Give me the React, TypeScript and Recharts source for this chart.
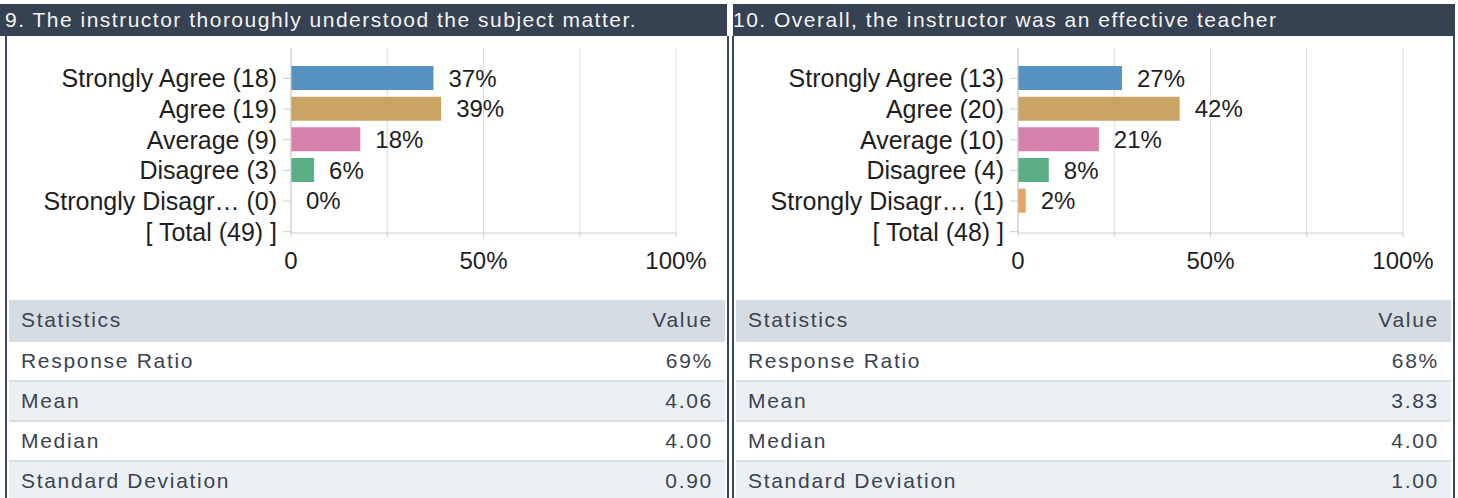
import { BarChart, Bar, XAxis, YAxis, CartesianGrid, LabelList, Cell } from 'recharts'

// answer colours, top to bottom (last one is the Total row, no bar)
const CHOICE_COLORS = ['#5592c1', '#c9a464', '#d681ac', '#5bae86', '#eca362', '#ffffff']

const X_TICKS = [0, 25, 50, 75, 100]

const Q9_TITLE = '9. The instructor thoroughly understood the subject matter.'
const Q9_LABELS = [
  'Strongly Agree (18)',
  'Agree (19)',
  'Average (9)',
  'Disagree (3)',
  'Strongly Disagr… (0)',
  '[ Total (49) ]',
]
const Q9_PERCENT = [37, 39, 18, 6, 0, null]
const Q9_STATS = ['69%', '4.06', '4.00', '0.90']

const Q10_TITLE = '10. Overall, the instructor was an effective teacher'
const Q10_LABELS = [
  'Strongly Agree (13)',
  'Agree (20)',
  'Average (10)',
  'Disagree (4)',
  'Strongly Disagr… (1)',
  '[ Total (48) ]',
]
const Q10_PERCENT = [27, 42, 21, 8, 2, null]
const Q10_STATS = ['68%', '3.83', '4.00', '1.00']

const STAT_NAMES = ['Response Ratio', 'Mean', 'Median', 'Standard Deviation']

const FONT = '"Liberation Sans", Arial, Helvetica, sans-serif'
const DARK = '#364151'
const BORDER = '#3b4656'

type PanelProps = {
  left: number
  width: number
  headerLeft: number
  headerWidth: number
  title: string
  labels: string[]
  percents: (number | null)[]
  stats: string[]
}

function QuestionChart({ labels, percents }: { labels: string[]; percents: (number | null)[] }) {
  const data = labels.map((label, i) => ({
    label,
    pct: percents[i],
    // a 0% answer gets no visible bar, only its label
    color: percents[i] ? CHOICE_COLORS[i] : 'transparent',
  }))

  return (
    <BarChart
      width={720}
      height={265}
      data={data}
      layout="vertical"
      margin={{ top: 12, right: 44, bottom: 28, left: 0 }}
    >
      <CartesianGrid horizontal={false} stroke="#dcdcdc" />
      <XAxis
        type="number"
        domain={[0, 100]}
        ticks={X_TICKS}
        interval={0}
        height={40}
        stroke="#cccccc"
        tickSize={4}
        tickMargin={15}
        tick={{ fill: '#1e1e1e', fontSize: 24 }}
        tickFormatter={(v: number) => (v === 0 ? '0' : v % 50 === 0 ? `${v}%` : '')}
      />
      <YAxis
        type="category"
        dataKey="label"
        width={291}
        stroke="#cccccc"
        tickSize={8}
        tickMargin={6}
        interval={0}
        padding={{ top: 15, bottom: -14 }}
        tick={{ fill: '#1e1e1e', fontSize: 25 }}
      />
      <Bar dataKey="pct" barSize={24} minPointSize={0.01} isAnimationActive={false}>
        {data.map((d, i) => (
          <Cell key={`cell-${i}`} fill={d.color} />
        ))}
        <LabelList
          dataKey="pct"
          position="right"
          offset={15}
          fill="#1e1e1e"
          fontSize={24}
          formatter={(v: any) => (v == null ? '' : `${v}%`)}
        />
      </Bar>
    </BarChart>
  )
}

function StatsTable({ stats }: { stats: string[] }) {
  const cell = {
    display: 'flex',
    justifyContent: 'space-between',
    alignItems: 'center',
    padding: '0 12px',
    fontSize: 21,
    letterSpacing: 1.7,
    color: '#3a4350',
    boxSizing: 'border-box' as const,
  }
  return (
    <div>
      <div style={{ ...cell, height: 40, background: '#d5dde2' }}>
        <span>Statistics</span>
        <span>Value</span>
      </div>
      {STAT_NAMES.map((name, i) => (
        <div
          key={name}
          style={{
            ...cell,
            height: 40,
            borderTop: '2px solid #d8dfe4',
            background: i % 2 === 1 ? '#ebf0f4' : '#ffffff',
          }}
        >
          <span>{name}</span>
          <span>{stats[i]}</span>
        </div>
      ))}
    </div>
  )
}

function Panel({ left, width, headerLeft, headerWidth, title, labels, percents, stats }: PanelProps) {
  return (
    <>
      <div
        style={{
          position: 'absolute',
          left: headerLeft,
          top: 4,
          width: headerWidth,
          height: 32,
          background: DARK,
          color: '#f4f4f4',
          fontSize: 21,
          letterSpacing: 1.5,
          lineHeight: '32px',
          paddingLeft: left - headerLeft,
          boxSizing: 'border-box',
          whiteSpace: 'nowrap',
          overflow: 'hidden',
        }}
      >
        {title}
      </div>
      <div
        style={{
          position: 'absolute',
          left,
          top: 36,
          width,
          height: 462,
          borderLeft: `2px solid ${BORDER}`,
          borderRight: `2px solid ${BORDER}`,
          boxSizing: 'border-box',
        }}
      />
      <div style={{ position: 'absolute', left: left - 5, top: 36 }}>
        <QuestionChart labels={labels} percents={percents} />
      </div>
      <div style={{ position: 'absolute', left: left + 4, top: 300, width: width - 8 }}>
        <StatsTable stats={stats} />
      </div>
    </>
  )
}

export default function App() {
  return (
    <div
      style={{
        position: 'absolute',
        left: 0,
        top: 0,
        width: 1458,
        height: 498,
        background: '#ffffff',
        fontFamily: FONT,
        overflow: 'hidden',
      }}
    >
      <Panel
        left={5}
        width={724}
        headerLeft={0}
        headerWidth={727}
        title={Q9_TITLE}
        labels={Q9_LABELS}
        percents={Q9_PERCENT}
        stats={Q9_STATS}
      />
      <Panel
        left={732}
        width={723}
        headerLeft={733}
        headerWidth={722}
        title={Q10_TITLE}
        labels={Q10_LABELS}
        percents={Q10_PERCENT}
        stats={Q10_STATS}
      />
    </div>
  )
}
